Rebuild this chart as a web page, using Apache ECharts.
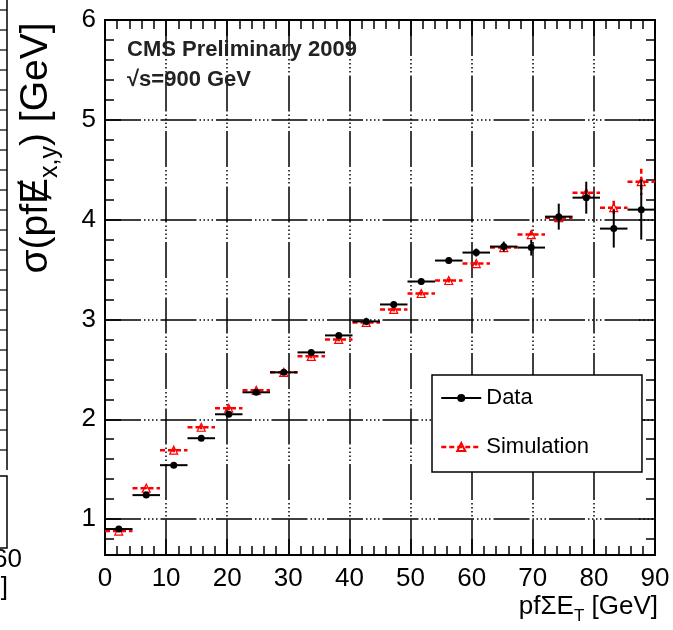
<!DOCTYPE html>
<html>
<head>
<meta charset="utf-8">
<script src="https://cdn.jsdelivr.net/npm/echarts@6/dist/echarts.min.js"></script>
<style>
  html, body { margin: 0; padding: 0; background: #fff; }
  #main { width: 673px; height: 630px; }
</style>
</head>
<body>
<div id="main"></div>
<script>
// pfSumEt bins (4.5 GeV wide)
var binCenters = [2.25, 6.75, 11.25, 15.75, 20.25, 24.75, 29.25, 33.75, 38.25, 42.75,
                  47.25, 51.75, 56.25, 60.75, 65.25, 69.75, 74.25, 78.75, 83.25, 87.75];
var binHalfWidth = 2.25;
// sigma(pf MET x,y) [GeV]
var dataSigma = [0.90, 1.24, 1.54, 1.81, 2.05, 2.27, 2.47, 2.67, 2.84, 2.98,
                 3.15, 3.38, 3.59, 3.67, 3.73, 3.72, 4.03, 4.22, 3.91, 4.10];
var dataErr   = [0.01, 0.01, 0.01, 0.01, 0.01, 0.01, 0.01, 0.02, 0.02, 0.02,
                 0.03, 0.03, 0.03, 0.04, 0.05, 0.08, 0.13, 0.16, 0.19, 0.30];
var simSigma  = [0.88, 1.31, 1.69, 1.92, 2.11, 2.29, 2.47, 2.63, 2.80, 2.97,
                 3.10, 3.26, 3.39, 3.56, 3.72, 3.85, 4.02, 4.27, 4.12, 4.38];
var simErr    = [0.01, 0.01, 0.02, 0.02, 0.02, 0.02, 0.02, 0.02, 0.02, 0.02,
                 0.02, 0.02, 0.02, 0.02, 0.03, 0.04, 0.03, 0.03, 0.07, 0.13];

var FONT = "'Liberation Sans', Arial, sans-serif";
var gridDash = [36, 3, 1.5, 2.5, 1.5, 2.5, 1.5, 2.5, 1.5, 3];

var dataPts = binCenters.map(function (x, i) { return [x, dataSigma[i], dataErr[i]]; });
var simPts = binCenters.map(function (x, i) { return [x, simSigma[i], simErr[i]]; });

// horizontal bar = bin width, vertical bar = error
function errBars(style) {
  return function (params, api) {
    var x = api.value(0), y = api.value(1), e = api.value(2);
    var l = api.coord([x - binHalfWidth, y]);
    var r = api.coord([x + binHalfWidth, y]);
    var t = api.coord([x, y + e]);
    var b = api.coord([x, y - e]);
    return {
      type: 'group',
      children: [
        { type: 'line', shape: { x1: l[0], y1: l[1], x2: r[0], y2: r[1] }, style: style },
        { type: 'line', shape: { x1: t[0], y1: t[1], x2: b[0], y2: b[1] }, style: style }
      ]
    };
  };
}

function intLabel(v) {
  return Math.abs(v - Math.round(v)) < 1e-6 ? String(Math.round(v)) : '';
}

var tickStyle = { color: '#000', width: 1.5 };

var myChart = echarts.init(document.getElementById('main'));

// bit of the neighbouring panel cut off at the left edge
var neighbour = [];
for (var ty = 10; ty < 470; ty += 20) {
  neighbour.push({ type: 'line', shape: { x1: 0, y1: ty, x2: 7, y2: ty }, style: { stroke: '#000', lineWidth: 1.2 } });
}
neighbour.push(
  { type: 'line', shape: { x1: 7, y1: 0, x2: 7, y2: 470 }, style: { stroke: '#000', lineWidth: 1.5 } },
  { type: 'polyline', shape: { points: [[0, 476], [7, 476], [7, 548], [0, 548]] }, style: { stroke: '#000', lineWidth: 1.5, fill: null } },
  { type: 'text', x: 22, y: 560, style: { text: '60', font: '26px ' + FONT, fill: '#000', align: 'right', verticalAlign: 'middle' } },
  { type: 'text', x: 8, y: 588, style: { text: ']', font: '26px ' + FONT, fill: '#000', align: 'right', verticalAlign: 'middle' } }
);

var option = {
  animation: false,
  grid: { left: 105, right: 18, top: 20, bottom: 75, show: true, borderColor: '#000', borderWidth: 2, backgroundColor: '#fff' },
  xAxis: [
    {
      type: 'value', position: 'bottom', min: 0, max: 90, interval: 10,
      axisLine: { show: true, onZero: false, lineStyle: { color: '#000', width: 2 } },
      axisTick: { show: true, inside: true, length: 16, lineStyle: tickStyle },
      minorTick: { show: true, splitNumber: 5, length: 9, lineStyle: tickStyle },
      axisLabel: { fontSize: 26, fontFamily: FONT, color: '#000', margin: 11 },
      splitLine: { show: true, showMinLine: false, showMaxLine: false, lineStyle: { color: '#000', width: 1.5, type: gridDash } }
    },
    {
      type: 'value', position: 'top', min: 0, max: 90, interval: 10,
      axisLine: { show: true, onZero: false, lineStyle: { color: '#000', width: 2 } },
      axisTick: { show: true, inside: true, length: 16, lineStyle: tickStyle },
      minorTick: { show: true, splitNumber: 5, length: 9, lineStyle: tickStyle },
      axisLabel: { show: false },
      splitLine: { show: false }
    }
  ],
  yAxis: [
    {
      type: 'value', position: 'left', min: 0.64, max: 6,
      axisLine: { show: true, onZero: false, lineStyle: { color: '#000', width: 2 } },
      axisTick: { show: true, inside: true, length: 16, lineStyle: tickStyle },
      minorTick: { show: true, splitNumber: 5, length: 9, lineStyle: tickStyle },
      axisLabel: { fontSize: 26, fontFamily: FONT, color: '#000', margin: 9, formatter: intLabel, showMinLabel: false },
      splitLine: { show: true, showMinLine: false, showMaxLine: false, lineStyle: { color: '#000', width: 1.5, type: gridDash } }
    },
    {
      type: 'value', position: 'right', min: 0.64, max: 6,
      axisLine: { show: true, onZero: false, lineStyle: { color: '#000', width: 2 } },
      axisTick: { show: true, inside: true, length: 16, lineStyle: tickStyle },
      minorTick: { show: true, splitNumber: 5, length: 9, lineStyle: tickStyle },
      axisLabel: { show: false },
      splitLine: { show: false }
    }
  ],
  legend: {
    orient: 'vertical', left: 432, top: 375,
    padding: [12, 53, 14, 8], itemGap: 27, itemWidth: 40, itemHeight: 10,
    borderColor: '#000', borderWidth: 1.5, backgroundColor: '#fff',
    selectedMode: false,
    textStyle: { fontSize: 22, fontFamily: FONT, color: '#000' },
    data: [
      { name: 'Data', lineStyle: { opacity: 1, width: 2, color: '#000', type: 'solid' } },
      { name: 'Simulation', lineStyle: { opacity: 1, width: 2.5, color: '#ff0000', type: [5, 3] } }
    ]
  },
  graphic: neighbour.concat([
    { type: 'text', x: 127, y: 50, z: 10, style: { text: 'CMS Preliminary 2009', font: 'bold 22px ' + FONT, fill: '#222', verticalAlign: 'middle' } },
    { type: 'text', x: 127, y: 80, z: 10, style: { text: '\u221As=900 GeV', font: 'bold 22px ' + FONT, fill: '#222', verticalAlign: 'middle' } },
    {
      type: 'text', x: 36, y: 148, rotation: Math.PI / 2,
      style: {
        text: '{a|\u03C3(pf\u0246}{s|x,y}{a|) [GeV]}',
        align: 'center', verticalAlign: 'middle',
        rich: {
          a: { fontSize: 39, fontFamily: FONT, fill: '#000', lineHeight: 54, verticalAlign: 'middle' },
          s: { fontSize: 25, fontFamily: FONT, fill: '#000', lineHeight: 30, verticalAlign: 'bottom' }
        }
      }
    },
    {
      type: 'text', x: 658, y: 607,
      style: {
        text: '{a|pf\u03A3E}{s|T}{a| [GeV]}',
        align: 'right', verticalAlign: 'middle',
        rich: {
          a: { fontSize: 26, fontFamily: FONT, fill: '#000', lineHeight: 36, verticalAlign: 'middle' },
          s: { fontSize: 17, fontFamily: FONT, fill: '#000', lineHeight: 20, verticalAlign: 'bottom' }
        }
      }
    }
  ]),
  series: [
    {
      name: 'simErr', type: 'custom', silent: true, z: 2,
      renderItem: errBars({ stroke: '#ff0000', lineWidth: 2.5, lineDash: [5, 3], fill: null }),
      encode: { x: 0, y: 1 }, data: simPts
    },
    {
      name: 'Simulation', type: 'line', z: 3, symbol: 'triangle', symbolSize: 8,
      lineStyle: { opacity: 0 }, emphasis: { disabled: true },
      itemStyle: { color: 'rgba(255,255,255,0)', borderColor: '#ff0000', borderWidth: 1.2 },
      data: simPts.map(function (p) { return [p[0], p[1]]; })
    },
    {
      name: 'dataErr', type: 'custom', silent: true, z: 4,
      renderItem: errBars({ stroke: '#000', lineWidth: 2, fill: null }),
      encode: { x: 0, y: 1 }, data: dataPts
    },
    {
      name: 'Data', type: 'line', z: 5, symbol: 'circle', symbolSize: 7,
      lineStyle: { opacity: 0 }, emphasis: { disabled: true },
      itemStyle: { color: '#000' },
      data: dataPts.map(function (p) { return [p[0], p[1]]; })
    }
  ]
};
myChart.setOption(option);
</script>
</body>
</html>
